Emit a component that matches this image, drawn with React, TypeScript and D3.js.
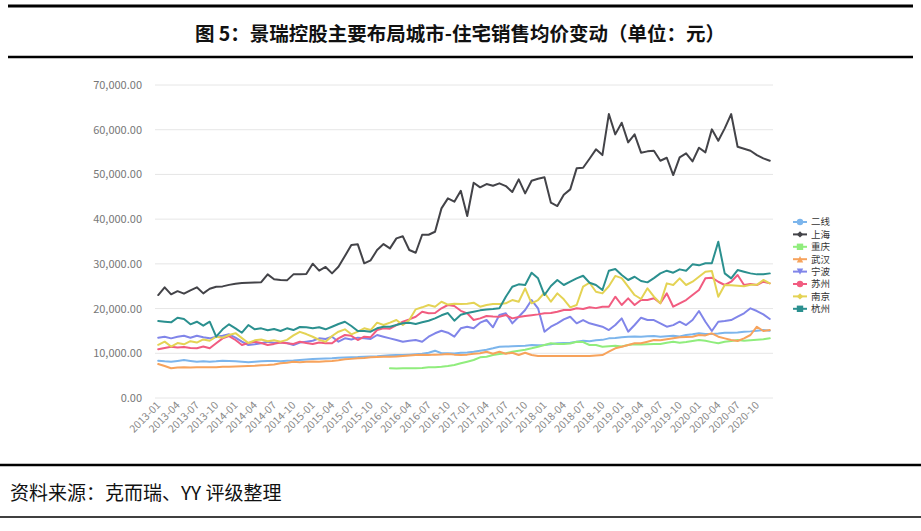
import React from 'react';
import * as d3 from 'd3';

const categories: string[] = d3.range(96).map((i) => `${2013 + Math.floor(i / 12)}-${String((i % 12) + 1).padStart(2, '0')}`);
const yTicks = [0, 10000, 20000, 30000, 40000, 50000, 60000, 70000];
const seriesNames = ['二线', '上海', '重庆', '武汉', '宁波', '苏州', '南京', '杭州'];
const colors = ['#7cb5ec', '#434348', '#90ed7d', '#f7a35c', '#8085e9', '#f15c80', '#e4d354', '#2b908f'];
const symbols = ['circle', 'diamond', 'square', 'triangle', 'triangleDown', 'circle', 'diamond', 'square'];

const erxian = [8340,8200,8120,8300,8500,8300,8120,8200,8100,8200,8340,8300,8200,8100,8000,8100,8200,8300,8250,8200,8340,8400,8500,8600,8700,8790,8850,8900,9000,9050,9100,9150,9240,9300,9350,9450,9550,9600,9610,9700,9800,9900,10130,10580,10000,9990,9950,10100,10200,10350,10580,10800,11110,11470,11500,11550,11620,11700,11850,11800,11850,12000,12230,12300,12380,12590,12810,12700,12900,13000,13340,13400,13600,13710,13750,13710,13790,13860,13700,13800,13900,13750,14090,14240,14470,14300,14310,14400,14600,14600,14650,14830,14900,15050,15200,15050];
const shanghai = [23030,24750,23190,23900,23330,24080,24750,23400,24440,24890,24960,25300,25560,25700,25800,25850,25900,27650,26540,26400,26310,27650,27700,27730,30040,28470,29300,27880,29360,31750,34210,34370,30120,30790,33090,34430,33470,35700,36160,33090,32490,36510,36510,37180,42410,44650,43900,46350,40700,48140,47110,47850,47470,48000,47400,46060,48900,45770,48590,49030,49350,43670,42930,45460,46660,51360,51490,53510,55610,54330,63500,58960,61560,57170,58960,54860,55160,55300,53060,53730,49860,53810,54710,52920,55970,54940,60080,57530,60300,63500,56190,55740,55300,54330,53590,53060];
const chongqing: (number | null)[] = [null,null,null,null,null,null,null,null,null,null,null,null,null,null,null,null,null,null,null,null,null,null,null,null,null,null,null,null,null,null,null,null,null,null,null,null,6640,6600,6640,6650,6640,6700,6860,6900,7000,7150,7380,7760,8120,8500,9100,9240,9610,9840,9990,10350,10580,10800,11110,11470,11850,12230,12100,12070,12200,12590,12500,11850,11850,11470,11600,11700,11500,11850,12000,11950,12000,12070,12100,12380,12590,12380,12500,12740,12970,12800,12500,12230,12590,12740,12970,12800,12900,13000,13120,13340];
const wuhan = [7600,7150,6640,6800,6850,6800,6860,6900,6860,6900,7010,7000,7050,7100,7150,7200,7300,7380,7500,7760,7900,8120,8000,8100,8150,8100,8200,8300,8450,8650,8750,8880,8950,9100,9150,9200,9240,9300,9400,9500,9610,9650,9600,9700,9750,9840,9700,9610,9700,9900,10000,10350,9900,10350,9900,10130,9610,10130,9610,9390,9400,9390,9390,9400,9390,9400,9390,9390,9500,9610,10350,11110,11470,11850,12230,12230,12590,12970,12900,13120,13340,13570,13640,13710,14090,14000,14470,13710,13340,12970,12740,13340,14090,15940,14980,15200];
const ningbo = [13490,13710,13340,13710,13930,13490,13930,13600,13340,13710,13900,14240,13490,12590,11850,12000,12230,12590,12300,12450,12300,11850,12400,12590,12800,13340,13200,13710,12590,13340,13100,13500,13340,13200,14090,13710,13340,12970,12590,12800,12970,12590,13710,14470,15050,14600,13710,15580,15940,15580,16850,17440,15810,18560,18940,16700,18180,19680,21910,20060,14830,15940,16700,17590,18180,16700,17440,16700,16320,15940,15200,16320,17810,14830,16320,17960,17440,17440,16700,15940,16300,17060,16320,17440,19450,17060,14980,17060,17200,17440,18180,18940,20060,19450,18710,17660];
const suzhou = [10890,11200,11470,11300,11400,11200,11110,11500,11110,12230,13340,13860,12970,11850,12300,12590,12300,11850,12100,12400,12230,12100,12590,12300,12070,12400,12230,12230,13340,14090,13900,12970,13710,13600,15200,15580,15500,16320,17060,17590,18180,19300,18940,19000,20060,20800,20570,19500,18940,17440,17810,18330,18200,18180,18560,17810,18100,18330,18500,18700,18940,19000,19300,19680,19700,20060,19900,20280,20100,20420,20420,22650,20800,22290,20800,21910,21900,22290,21180,23400,20420,21180,21910,23030,24150,26760,26900,26000,25270,26010,27500,25270,25500,25270,26010,25640];
const nanjing = [11900,12600,11500,12300,12000,12700,12400,13100,12800,13700,13500,14100,14500,13400,12300,12900,13100,12700,12900,12600,13000,14000,14800,14300,13700,13000,12590,13860,14830,15360,14240,14830,15580,15200,16850,16320,16850,17440,16320,17440,19830,20280,20800,20420,21530,20900,21100,21020,21100,21310,20420,20800,21000,21020,21180,21910,21530,24530,21180,21910,23540,21530,23400,22070,20280,20800,24890,25780,23770,23400,25000,27300,26800,24890,23030,22140,24530,22650,21180,25640,25270,26760,25270,26010,27120,28240,28400,22650,25270,25200,25100,25000,25300,25300,26390,25640];
const hangzhou = [17220,17060,16920,17950,17660,16480,17060,16170,17060,13710,15360,16480,15580,14600,16320,15360,15580,15140,15430,14980,15580,15200,15880,15810,15580,15810,15360,15940,16550,17060,16100,14980,14980,14830,15580,15940,15940,16320,16700,16850,16550,16920,17290,17810,18500,19000,17290,18600,19000,19300,19600,19800,19900,20060,22650,24890,25420,25270,28020,26760,23030,25040,26390,25270,26010,26760,27350,25780,25270,24150,28470,28840,27500,26390,27120,26160,25860,26800,27870,28470,28020,28770,28470,29890,29670,30120,30120,34950,27870,26760,28620,28240,27870,27650,27700,27870];

const seriesData: (number | null)[][] = [erxian, shanghai, chongqing, wuhan, ningbo, suzhou, nanjing, hangzhou];

const W = 921;
const H = 531;
const FONT = '"Noto Sans CJK SC", "Noto Sans", sans-serif';

function symbolPath(kind: string, r: number): string {
  switch (kind) {
    case 'circle':
      return d3.symbol(d3.symbolCircle, Math.PI * r * r)()!;
    case 'diamond':
      return `M0,${-r}L${r},0L0,${r}L${-r},0Z`;
    case 'square':
      return `M${-r},${-r}H${r}V${r}H${-r}Z`;
    case 'triangle':
      return `M0,${-r}L${r},${r}L${-r},${r}Z`;
    case 'triangleDown':
      return `M${-r},${-r}L${r},${-r}L0,${r}Z`;
    default:
      return '';
  }
}

export default function App() {
  const x = d3.scalePoint<string>().domain(categories).range([155, 773]).padding(0.5);
  const y = d3.scaleLinear().domain([0, 70000]).range([398, 85]);
  const fmt = d3.format(',.2f');
  const line = d3
    .line<number | null>()
    .defined((d) => d !== null)
    .x((_, i) => x(categories[i])!)
    .y((d) => y(d as number));

  const legendX = 793;
  const legendY0 = 222;
  const legendStep = 12.4;

  return (
    <svg
      width={W}
      height={H}
      style={{ position: 'absolute', left: 0, top: 0, background: '#fff' }}
      fontFamily={FONT}
    >
      <rect x={0} y={0} width={W} height={H} fill="#fff" />
      {/* frame lines */}
      <line x1={8} x2={913} y1={6} y2={6} stroke="#000" strokeWidth={3} />
      <text x={460} y={41} textAnchor="middle" fontSize={19.5} fontWeight="bold" fill="#111">
        图 5：景瑞控股主要布局城市-住宅销售均价变动（单位：元）
      </text>
      <line x1={8} x2={913} y1={57} y2={57} stroke="#000" strokeWidth={2.5} />

      {/* gridlines and y labels */}
      {yTicks.map((t) => (
        <g key={t}>
          <line x1={155} x2={773} y1={y(t)} y2={y(t)} stroke="#e6e6e6" strokeWidth={1} />
          <text x={142} y={y(t) + 4} textAnchor="end" fontSize={11} fill="#777">
            {fmt(t)}
          </text>
        </g>
      ))}

      {/* x labels */}
      {categories.map((c, i) =>
        i % 3 === 0 ? (
          <text
            key={c}
            transform={`translate(${x(c)! + 3},${406}) rotate(-45)`}
            textAnchor="end"
            fontSize={10.5}
            fill="#888"
          >
            {c}
          </text>
        ) : null
      )}

      {/* series lines */}
      {seriesData.map((data, si) => (
        <path
          key={seriesNames[si]}
          d={line(data) || ''}
          fill="none"
          stroke={colors[si]}
          strokeWidth={2}
          strokeLinejoin="round"
          strokeLinecap="round"
        />
      ))}

      {/* legend */}
      {seriesNames.map((name, si) => {
        const cy = legendY0 + si * legendStep;
        return (
          <g key={name}>
            <line x1={legendX} x2={legendX + 14} y1={cy} y2={cy} stroke={colors[si]} strokeWidth={2} />
            <path d={symbolPath(symbols[si], 3.2)} transform={`translate(${legendX + 7},${cy})`} fill={colors[si]} />
            <text x={legendX + 18} y={cy + 3.3} fontSize={9.5} fill="#333">
              {name}
            </text>
          </g>
        );
      })}

      {/* bottom */}
      <line x1={0} x2={W} y1={465} y2={465} stroke="#000" strokeWidth={2.5} />
      <text x={10} y={500} fontSize={19} fill="#111">
        资料来源：克而瑞、YY 评级整理
      </text>
      <line x1={0} x2={W} y1={517} y2={517} stroke="#000" strokeWidth={1.5} />
    </svg>
  );
}
